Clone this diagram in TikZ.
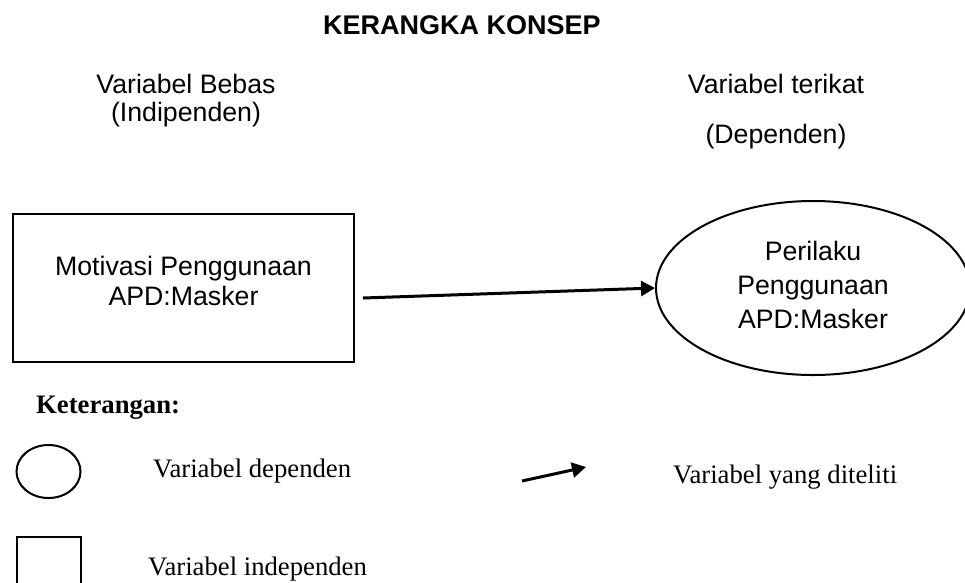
\documentclass[tikz,border=0pt]{standalone}
\usepackage{fontspec}
\setmainfont{Liberation Serif}
\setsansfont{Liberation Sans}
\usetikzlibrary{shapes.geometric,arrows.meta}
\begin{document}
\begin{tikzpicture}[x=1pt,y=1pt,
  sans/.style={font=\sffamily\fontsize{26.7}{31}\selectfont, inner sep=0pt, align=center},
  serif/.style={font=\rmfamily\fontsize{26.7}{31}\selectfont, inner sep=0pt},
  outline/.style={draw=black, line width=2pt},
  conn/.style={draw=black, line width=3pt, -{Triangle[length=14pt,width=15pt]}}]
\useasboundingbox (0,0) rectangle (965,-582);
% title and headers
\node[sans, font=\sffamily\bfseries\fontsize{27}{31}\selectfont, anchor=base] (title) at (462,-34) {KERANGKA KONSEP};
\node[sans, anchor=base] (hb1) at (186,-93) {Variabel Bebas};
\node[sans, anchor=base] (hb2) at (186,-121) {(Indipenden)};
\node[sans, anchor=base] (ht1) at (776,-93) {Variabel terikat};
\node[sans, anchor=base] (ht2) at (776,-143) {(Dependen)};
% main shapes
\node[outline, rectangle, minimum width=341pt, minimum height=148pt, inner sep=0pt] (ind) at (183.5,-288) {};
\node[sans, anchor=base] (indt1) at (183.5,-275) {Motivasi Penggunaan};
\node[sans, anchor=base] (indt2) at (183.5,-305) {APD:Masker};
\node[outline, ellipse, minimum width=314pt, minimum height=174pt, inner sep=0pt] (dep) at (813,-288) {};
\node[sans, anchor=base] (dept1) at (813,-260) {Perilaku};
\node[sans, anchor=base] (dept2) at (813,-294) {Penggunaan};
\node[sans, anchor=base] (dept3) at (813,-328) {APD:Masker};
\coordinate (a0) at (363,-298);
\draw[conn] (a0) -- (dep.west);
% legend
\node[serif, font=\rmfamily\bfseries\fontsize{26.7}{31}\selectfont, anchor=base west] (ket) at (36,-413) {Keterangan:};
\node[outline, ellipse, minimum width=64pt, minimum height=53pt, inner sep=0pt] (lell) at (48.5,-471.5) {};
\node[serif, anchor=base west] (lellt) at (153,-477) {Variabel dependen};
\coordinate (la0) at (522,-481);
\coordinate (la1) at (586,-467);
\draw[conn] (la0) -- (la1);
\node[serif, anchor=base west] (larrt) at (673,-483) {Variabel yang diteliti};
\draw[outline] (17,-590) -- (17,-537) -- (81,-537) -- (81,-590);
\node[serif, anchor=base west] (lrectt) at (148,-575) {Variabel independen};
\end{tikzpicture}
\end{document}
